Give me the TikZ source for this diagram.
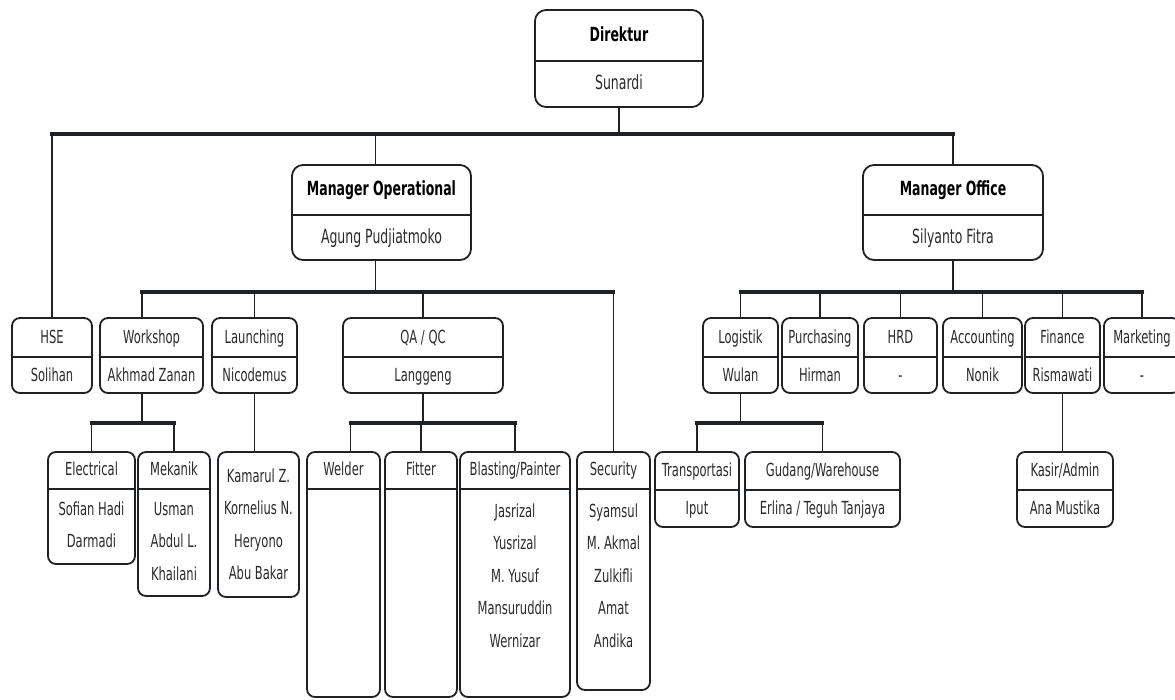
\documentclass[tikz,border=0pt]{standalone}
\usepackage{fontspec}
\setmainfont{DejaVu Sans}[FakeStretch=0.64]
\usetikzlibrary{fit}
\definecolor{linecol}{HTML}{1E2226}
\definecolor{textcol}{HTML}{2A2A2A}
\tikzset{
	box/.style={draw=linecol, line width=1.8pt, rounded corners=8pt, inner sep=0pt},
	bigbox/.style={box, rounded corners=11pt},
	divline/.style={draw=linecol, line width=2.6pt},
	link/.style={draw=linecol, line width=1.8pt},
	bar/.style={draw=linecol, line width=3.4pt, line cap=rect},
	txt/.style={inner sep=0pt, text=textcol, font=\fontsize{18}{20}\selectfont, text height=13pt, text depth=3pt},
	bigtxt/.style={txt, font=\fontsize{19.5}{22}\selectfont},
	head/.style={txt, text=black, font=\bfseries\fontsize{19.5}{22}\selectfont}
}

\begin{document}
\begin{tikzpicture}[x=1pt, y=-1pt]
	\useasboundingbox (0,0) rectangle (1175,699);
	% Top
	\node [bigbox, fit={(535,10) (703,107)}] (dir) {};
	\draw [divline] (dir.west |- 0,61) -- (dir.east |- 0,61);
	\node [head] (dir-t) at (dir.center |- 0,36) {Direktur};
	\node [bigtxt] (dir-n) at (dir.center |- 0,84) {Sunardi};
	% Managers
	\node [bigbox, fit={(292,165) (471,260)}] (mop) {};
	\draw [divline] (mop.west |- 0,215) -- (mop.east |- 0,215);
	\node [head] (mop-t) at (mop.center |- 0,190) {Manager Operational};
	\node [bigtxt] (mop-n) at (mop.center |- 0,238) {Agung Pudjiatmoko};
	\node [bigbox, fit={(863,165) (1043,260)}] (off) {};
	\draw [divline] (off.west |- 0,215) -- (off.east |- 0,215);
	\node [head] (off-t) at (off.center |- 0,190) {Manager Office};
	\node [bigtxt] (off-n) at (off.center |- 0,238) {Silyanto Fitra};
	% Second row
	\foreach \nm/\xa/\xb/\ttl/\who in {hse/12/92/HSE/Solihan, ws/100/203/Workshop/Akhmad Zanan,
		lau/212/297/Launching/Nicodemus, qa/343/503/{QA / QC}/Langgeng, log/703/778/Logistik/Wulan,
		pur/782/858/Purchasing/Hirman, hrd/864/937/HRD/-, acc/943/1022/Accounting/Nonik,
		fin/1025/1100/Finance/Rismawati, mkt/1104/1180/Marketing/-}
	{
		\node [box, fit={(\xa,318) (\xb,393)}] (\nm) {};
		\draw [divline] (\nm.west |- 0,357) -- (\nm.east |- 0,357);
		\node [txt] (\nm-t) at (\nm.center |- 0,338) {\ttl};
		\node [txt] (\nm-n) at (\nm.center |- 0,376) {\who};
	}
	% Third row, two lines
	\foreach \nm/\xa/\xb/\ttl/\who in {trans/655/739/Transportasi/Iput,
		gud/745/900/{Gudang/Warehouse}/{Erlina / Teguh Tanjaya}, kasir/1017/1113/{Kasir/Admin}/Ana Mustika}
	{
		\node [box, fit={(\xa,452) (\xb,527)}] (\nm) {};
		\draw [divline] (\nm.west |- 0,490) -- (\nm.east |- 0,490);
		\node [txt] (\nm-t) at (\nm.center |- 0,471) {\ttl};
		\node [txt] (\nm-n) at (\nm.center |- 0,509) {\who};
	}
	% Third row, lists
	\node [box, fit={(48,452) (135,564)}] (elec) {};
	\draw [divline] (elec.west |- 0,489) -- (elec.east |- 0,489);
	\node [txt] (elec-t) at (elec.center |- 0,470) {Electrical};
	\foreach \p [count=\i, evaluate=\i as \yy using 477.5+32.5*\i] in {Sofian Hadi, Darmadi}
		\node [txt] (elec-\i) at (elec.center |- 0,\yy) {\p};
	\node [box, fit={(138,452) (210,596)}] (mek) {};
	\draw [divline] (mek.west |- 0,489) -- (mek.east |- 0,489);
	\node [txt] (mek-t) at (mek.center |- 0,470) {Mekanik};
	\foreach \p [count=\i, evaluate=\i as \yy using 477.5+32.5*\i] in {Usman, Abdul L., Khailani}
		\node [txt] (mek-\i) at (mek.center |- 0,\yy) {\p};
	\node [box, fit={(218,452) (299,597)}] (kam) {};
	\foreach \p [count=\i, evaluate=\i as \yy using 444.5+32.5*\i] in {Kamarul Z., Kornelius N., Heryono, Abu Bakar}
		\node [txt] (kam-\i) at (kam.center |- 0,\yy) {\p};
	\node [box, fit={(307,452) (380,697)}] (weld) {};
	\draw [divline] (weld.west |- 0,489) -- (weld.east |- 0,489);
	\node [txt] (weld-t) at (weld.center |- 0,470) {Welder};
	\node [box, fit={(385,452) (457,697)}] (fit) {};
	\draw [divline] (fit.west |- 0,489) -- (fit.east |- 0,489);
	\node [txt] (fit-t) at (fit.center |- 0,470) {Fitter};
	\node [box, fit={(460,452) (570,697)}] (blast) {};
	\draw [divline] (blast.west |- 0,489) -- (blast.east |- 0,489);
	\node [txt] (blast-t) at (blast.center |- 0,470) {Blasting/Painter};
	\foreach \p [count=\i, evaluate=\i as \yy using 479.5+32.5*\i] in {Jasrizal, Yusrizal, M. Yusuf, Mansuruddin, Wernizar}
		\node [txt] (blast-\i) at (blast.center |- 0,\yy) {\p};
	\node [box, fit={(577,452) (650,690)}] (sec) {};
	\draw [divline] (sec.west |- 0,489) -- (sec.east |- 0,489);
	\node [txt] (sec-t) at (sec.center |- 0,470) {Security};
	\foreach \p [count=\i, evaluate=\i as \yy using 479.5+32.5*\i] in {Syamsul, M. Akmal, Zulkifli, Amat, Andika}
		\node [txt] (sec-\i) at (sec.center |- 0,\yy) {\p};
	% Lines
	\coordinate (top) at (dir.south |- 0,134);
	\draw [link] (dir.south) -- (top);
	\draw [bar] (hse.north |- top) -- (off.north |- top);
	\draw [link] (hse.north) -- (hse.north |- top);
	\draw [link] ([xshift=-6pt]mop.north) -- ([xshift=-6pt]mop.north |- top);
	\draw [link] (off.north) -- (off.north |- top);
	\coordinate (opbar) at ([xshift=-6pt]mop.south |- 0,292);
	\draw [link] ([xshift=-6pt]mop.south) -- (opbar);
	\draw [bar] ([xshift=-9.5pt]ws.north |- opbar) -- (sec.north |- opbar);
	\draw [link] ([xshift=-9.5pt]ws.north) -- ([xshift=-9.5pt]ws.north |- opbar);
	\foreach \b in {lau,qa,sec} \draw [link] (\b.north) -- (\b.north |- opbar);
	\coordinate (ofbar) at (off.south |- 0,292);
	\draw [link] (off.south) -- (ofbar);
	\draw [bar] (log.north |- ofbar) -- (mkt.north |- ofbar);
	\foreach \b in {log,pur,hrd,acc,fin,mkt} \draw [link] (\b.north) -- (\b.north |- ofbar);
	\coordinate (wsbar) at ([xshift=-9.5pt]ws.south |- 0,423);
	\draw [link] ([xshift=-9.5pt]ws.south) -- (wsbar);
	\draw [bar] (elec.north |- wsbar) -- (mek.north |- wsbar);
	\foreach \b in {elec,mek} \draw [link] (\b.north) -- (\b.north |- wsbar);
	\draw [link] (lau.south) -- (lau.south |- kam.north);
	\coordinate (qabar) at (qa.south |- 0,423);
	\draw [link] (qa.south) -- (qabar);
	\draw [bar] ([xshift=7pt]weld.north |- qabar) -- (blast.north |- qabar);
	\draw [link] ([xshift=7pt]weld.north) -- ([xshift=7pt]weld.north |- qabar);
	\foreach \b in {fit,blast} \draw [link] (\b.north) -- (\b.north |- qabar);
	\coordinate (logbar) at (log.south |- 0,423);
	\draw [link] (log.south) -- (logbar);
	\draw [bar] (trans.north |- logbar) -- (gud.north |- logbar);
	\foreach \b in {trans,gud} \draw [link] (\b.north) -- (\b.north |- logbar);
	\draw [link] (fin.south) -- (fin.south |- kasir.north);
\end{tikzpicture}
\end{document}
